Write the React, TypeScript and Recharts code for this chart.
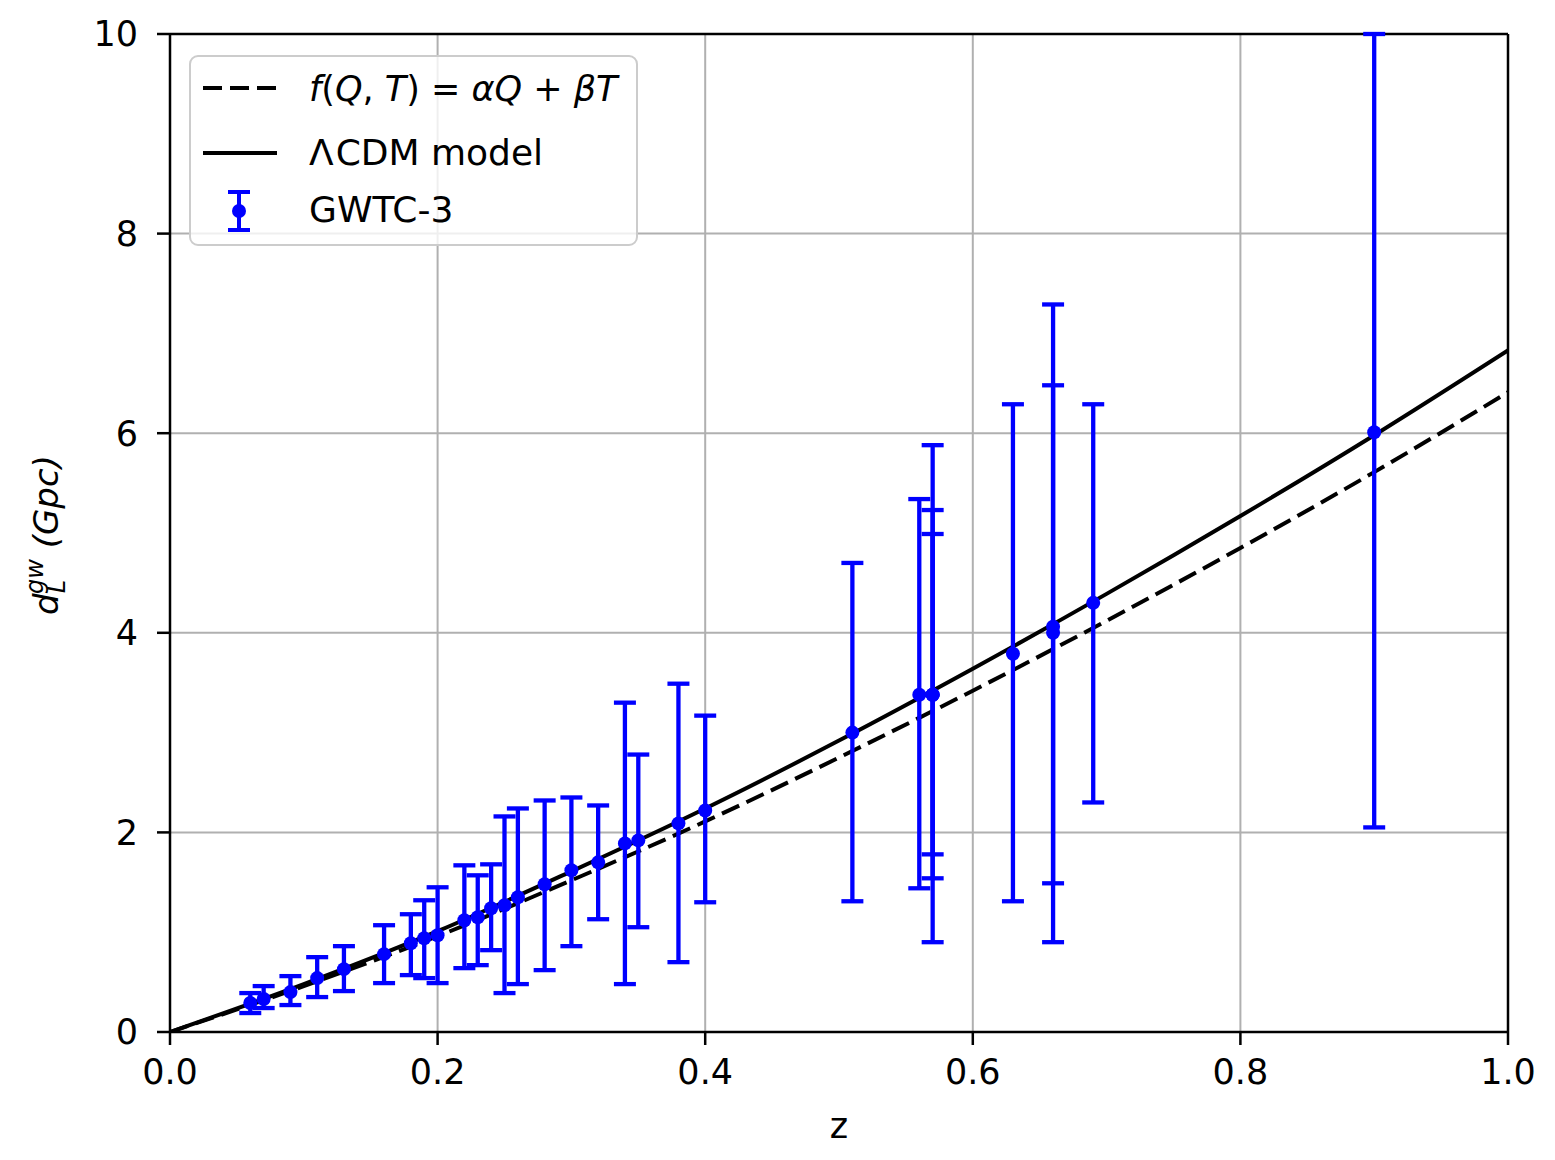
import {
  CartesianGrid,
  ComposedChart,
  ErrorBar,
  Legend,
  Line,
  ReferenceLine,
  Scatter,
  XAxis,
  YAxis,
} from 'recharts';

// GWTC-3 events: redshift, luminosity distance (Gpc) and the error bar ends
const eventZ = [
  0.06, 0.07, 0.09, 0.11, 0.13, 0.16, 0.18, 0.19, 0.2, 0.22, 0.23, 0.24, 0.25, 0.26, 0.28, 0.3,
  0.32, 0.34, 0.35, 0.38, 0.4, 0.51, 0.56, 0.57, 0.57, 0.57, 0.63, 0.66, 0.66, 0.69, 0.9,
];
const eventD = [
  0.29, 0.33, 0.4, 0.54, 0.63, 0.78, 0.89, 0.94, 0.97, 1.12, 1.15, 1.24, 1.27, 1.35, 1.48, 1.62,
  1.7, 1.89, 1.92, 2.09, 2.22, 3.0, 3.38, 3.38, 3.38, 3.38, 3.79, 4.06, 4.0, 4.3, 6.01,
];
const eventLow = [
  0.19, 0.24, 0.27, 0.35, 0.41, 0.49, 0.57, 0.54, 0.49, 0.64, 0.67, 0.82, 0.39, 0.48, 0.62, 0.86,
  1.13, 0.48, 1.05, 0.7, 1.3, 1.31, 1.44, 0.9, 1.78, 1.54, 1.31, 0.9, 1.49, 2.3, 2.05,
];
const eventHigh = [
  0.39, 0.46, 0.56, 0.75, 0.86, 1.07, 1.18, 1.32, 1.45, 1.67, 1.57, 1.68, 2.16, 2.24, 2.32, 2.35,
  2.27, 3.3, 2.78, 3.49, 3.17, 4.7, 5.34, 5.88, 5.23, 4.99, 6.29, 7.29, 6.48, 6.29, 10.0,
];

// model curves
const curveZ = [0, 0.1, 0.2, 0.3, 0.4, 0.5, 0.6, 0.7, 0.8, 0.9, 1.0];
const lcdmD = [0, 0.48, 1.01, 1.61, 2.24, 2.92, 3.64, 4.39, 5.17, 5.98, 6.83];
const fqtD = [0, 0.46, 0.96, 1.52, 2.11, 2.75, 3.42, 4.12, 4.85, 5.61, 6.41];

const xTicks = [0, 0.2, 0.4, 0.6, 0.8, 1.0];
const yTicks = [0, 2, 4, 6, 8, 10];

const events = eventZ.map((z, i) => ({
  z,
  d: eventD[i],
  err: [eventD[i] - eventLow[i], eventHigh[i] - eventD[i]],
}));
const lcdm = curveZ.map((z, i) => ({ z, d: lcdmD[i] }));
const fqt = curveZ.map((z, i) => ({ z, d: fqtD[i] }));

const FONT = '"DejaVu Sans", sans-serif';
const BLUE = '#0000ff';
const DASH = '19 8';

function Dot(props: any) {
  return <circle cx={props.cx} cy={props.cy} r={7} fill={BLUE} />;
}

function LegendBox() {
  return (
    <svg width={449} height={191} style={{ display: 'block' }}>
      <rect x={1} y={1} width={447} height={189} rx={8} fill="rgba(255,255,255,0.8)" stroke="#cccccc" strokeWidth={2} />
      <line x1={14} x2={88} y1={33} y2={33} stroke="#000" strokeWidth={4} strokeDasharray={DASH} />
      <text x={120} y={46} fontSize={35} fontFamily={FONT} fill="#000">
        <tspan fontStyle="italic">f</tspan>
        <tspan>(</tspan>
        <tspan fontStyle="italic">Q</tspan>
        <tspan>, </tspan>
        <tspan fontStyle="italic">T</tspan>
        <tspan>) = </tspan>
        <tspan fontStyle="italic">αQ</tspan>
        <tspan> + </tspan>
        <tspan fontStyle="italic">βT</tspan>
      </text>
      <line x1={14} x2={88} y1={98} y2={98} stroke="#000" strokeWidth={4} />
      <text x={120} y={110} fontSize={36} fontFamily={FONT} fill="#000">
        <tspan>Λ</tspan>
        <tspan dx={2}>CDM model</tspan>
      </text>
      <line x1={50} x2={50} y1={137} y2={175} stroke={BLUE} strokeWidth={4} />
      <line x1={39} x2={61} y1={137} y2={137} stroke={BLUE} strokeWidth={4} />
      <line x1={39} x2={61} y1={175} y2={175} stroke={BLUE} strokeWidth={4} />
      <circle cx={50} cy={156} r={7} fill={BLUE} />
      <text x={120} y={167} fontSize={36} fontFamily={FONT} fill="#000">GWTC-3</text>
    </svg>
  );
}

function YLabel() {
  return (
    <text transform="rotate(-90, 58, 535)" x={58} y={535} textAnchor="middle" fontSize={34} fontFamily={FONT} fill="#000">
      <tspan fontStyle="italic">d</tspan>
      <tspan fontStyle="italic" fontSize={24} dy={7}>L</tspan>
      <tspan fontStyle="italic" fontSize={24} dx={-14} dy={-22}>gw</tspan>
      <tspan fontStyle="italic" dy={15}> (Gpc)</tspan>
    </text>
  );
}

function XLabel() {
  return (
    <text x={839} y={1138} textAnchor="middle" fontSize={35} fontFamily={FONT} fill="#000">
      z
    </text>
  );
}

export default function App() {
  return (
    <div style={{ position: 'absolute', left: 0, top: 0, width: 1555, height: 1160, background: '#fff' }}>
      <ComposedChart width={1555} height={1160} margin={{ top: 34, right: 47, bottom: 28, left: 80 }}>
        <CartesianGrid stroke="#b0b0b0" strokeWidth={2} />
        <XAxis
          dataKey="z"
          type="number"
          domain={[0, 1]}
          ticks={xTicks}
          allowDataOverflow
          height={100}
          tickFormatter={(v: number) => v.toFixed(1)}
          tick={{ fontSize: 35, fontFamily: FONT, fill: '#000' }}
          tickSize={13}
          tickMargin={14}
          axisLine={{ stroke: '#000', strokeWidth: 2.5 }}
          tickLine={{ stroke: '#000', strokeWidth: 2.5 }}
          label={{ content: XLabel }}
        />
        <YAxis
          dataKey="d"
          type="number"
          domain={[0, 10]}
          ticks={yTicks}
          allowDataOverflow
          width={90}
          tick={{ fontSize: 35, fontFamily: FONT, fill: '#000' }}
          tickSize={13}
          tickMargin={19}
          axisLine={{ stroke: '#000', strokeWidth: 2.5 }}
          tickLine={{ stroke: '#000', strokeWidth: 2.5 }}
          label={{ content: YLabel }}
        />
        <ReferenceLine x={1} stroke="#000" strokeWidth={2.5} ifOverflow="visible" />
        <ReferenceLine y={10} stroke="#000" strokeWidth={2.5} ifOverflow="visible" />
        <Line
          data={fqt}
          dataKey="d"
          type="monotone"
          stroke="#000"
          strokeWidth={4}
          strokeDasharray={DASH}
          dot={false}
          activeDot={false}
          isAnimationActive={false}
        />
        <Line
          data={lcdm}
          dataKey="d"
          type="monotone"
          stroke="#000"
          strokeWidth={4}
          dot={false}
          activeDot={false}
          isAnimationActive={false}
        />
        <Scatter data={events} dataKey="d" shape={Dot} isAnimationActive={false}>
          <ErrorBar dataKey="err" direction="y" width={11} stroke={BLUE} strokeWidth={4.3} />
        </Scatter>
        <Legend
          layout="vertical"
          verticalAlign="middle"
          align="center"
          content={LegendBox}
          wrapperStyle={{ left: 189, top: 55, width: 449, height: 191 }}
        />
      </ComposedChart>
    </div>
  );
}
